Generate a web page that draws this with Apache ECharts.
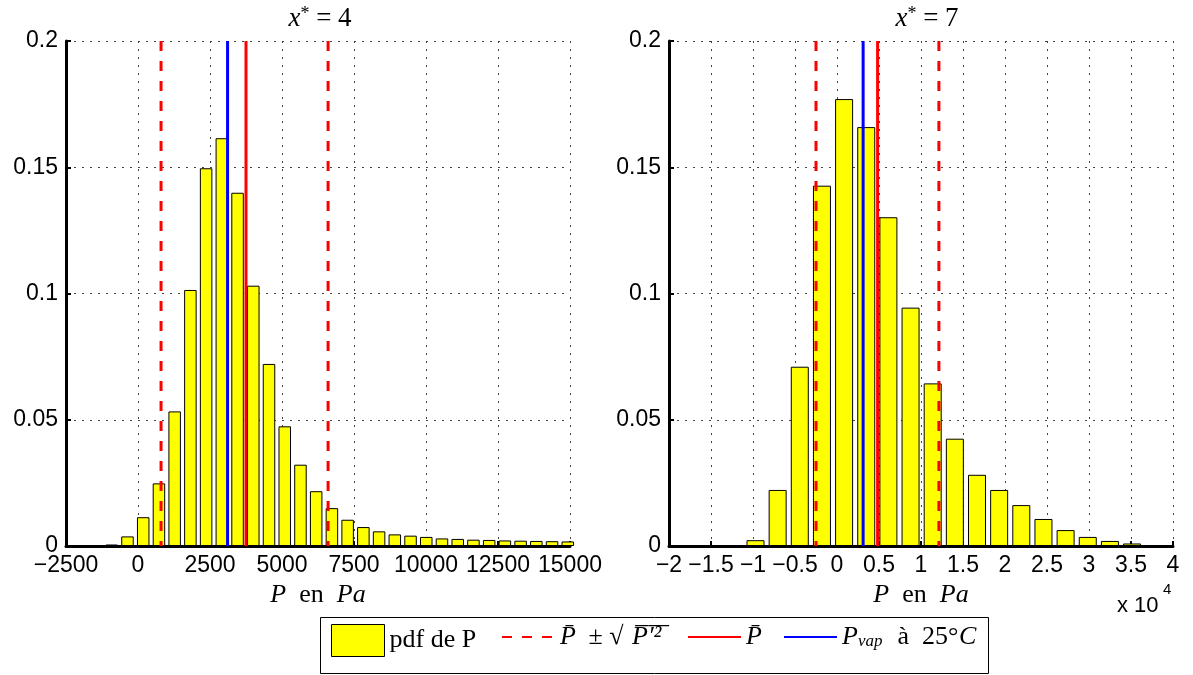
<!DOCTYPE html>
<html>
<head>
<meta charset="utf-8">
<script src="https://cdn.jsdelivr.net/npm/echarts@6/dist/echarts.min.js"></script>
<style>
html,body{margin:0;padding:0;background:#fff;}
#chart{width:1193px;height:675px;}
</style>
</head>
<body>
<div id="chart"></div>
<script>
// ---- Data ----
// Left panel (x* = 4): histogram bin centres (Pa) and pdf values
const binCentersLeft = [-1457, -911, -365, 181, 727, 1273, 1819, 2365, 2911, 3457, 4003, 4549, 5095, 5641, 6187, 6733, 7279, 7825, 8371, 8917, 9463, 10009, 10555, 11101, 11647, 12193, 12739, 13285, 13831, 14377, 14923];
const pdfLeft        = [0.0002, 0.0006, 0.0038, 0.0114, 0.0248, 0.0533, 0.1014, 0.1496, 0.1615, 0.1399, 0.1031, 0.0721, 0.0474, 0.0322, 0.0217, 0.0150, 0.0104, 0.0075, 0.0058, 0.0046, 0.0041, 0.0036, 0.0030, 0.0028, 0.0025, 0.0024, 0.0022, 0.0021, 0.0020, 0.0019, 0.0018];
const meanLeft = 3750, lowLeft = 800, highLeft = 6600, pvapLeft = 3110;

// Right panel (x* = 7)
const binCentersRight = [-9703, -7066, -4429, -1792, 845, 3482, 6119, 8756, 11393, 14030, 16667, 19304, 21941, 24578, 27215, 29852, 32489, 35126, 37763];
const pdfRight        = [0.0023, 0.0222, 0.0710, 0.1427, 0.1770, 0.1659, 0.1302, 0.0944, 0.0644, 0.0425, 0.0282, 0.0222, 0.0162, 0.0107, 0.0063, 0.0036, 0.0020, 0.0010, 0.0003];
const meanRight = 4834, lowRight = -2500, highRight = 12130, pvapRight = 3110;

const yTicks = [0, 0.05, 0.1, 0.15, 0.2];
const titles = ['4', '7'];

// ---- Chart ----
const chart = echarts.init(document.getElementById('chart'), null, {renderer: 'canvas'});
const SANS = 'Liberation Sans';
const SERIF = 'Liberation Serif';
const minus = s => String(s).replace('-', '\u2212');

function serifRich(size) {
  return {
    it: {fontFamily: SERIF, fontStyle: 'italic', fontWeight: 'normal', fontSize: size, color: '#000'},
    rm: {fontFamily: SERIF, fontWeight: 'normal', fontSize: size, color: '#000'},
    sup: {fontFamily: SERIF, fontWeight: 'normal', fontSize: Math.round(size * 0.65), color: '#000', verticalAlign: 'top', padding: [0, 0, 8, 0]}
  };
}

const legendRich = {
  pdf: {fontFamily: SERIF, fontSize: 26, color: '#000'},
  sP: {fontFamily: SERIF, fontStyle: 'italic', fontSize: 26, color: '#000', width: 22},
  sPm: {fontFamily: SERIF, fontSize: 26, color: '#000', width: 50},
  sQ: {fontFamily: SERIF, fontStyle: 'italic', fontSize: 26, color: '#000', width: 38},
  mP: {fontFamily: SERIF, fontStyle: 'italic', fontSize: 26, color: '#000'},
  vP: {fontFamily: SERIF, fontStyle: 'italic', fontSize: 26, color: '#000'},
  vSub: {fontFamily: SERIF, fontStyle: 'italic', fontSize: 17, color: '#000', width: 33, verticalAlign: 'bottom', padding: [10, 0, 0, 0]},
  vRm: {fontFamily: SERIF, fontSize: 26, color: '#000', width: 68},
  vC: {fontFamily: SERIF, fontStyle: 'italic', fontSize: 26, color: '#000'}
};

function makeX(idx, min, max, interval, fmt) {
  return {
    type: 'value', gridIndex: idx, min: min, max: max, interval: interval,
    name: '{it|P}{rm|  en  }{it|Pa}', nameLocation: 'middle', nameGap: 36,
    nameTextStyle: {rich: serifRich(26)},
    axisLine: {show: true, onZero: false, lineStyle: {color: '#000', width: 3}},
    axisTick: {show: true, inside: true, length: 5, lineStyle: {color: '#000', width: 2}},
    axisLabel: {color: '#000', fontFamily: SANS, fontSize: 23, margin: 8, formatter: fmt},
    splitLine: {show: true, lineStyle: {color: '#444', width: 1, type: [2, 6]}}
  };
}
function makeY(idx) {
  return {
    type: 'value', gridIndex: idx, min: yTicks[0], max: yTicks[yTicks.length - 1], interval: 0.05,
    axisLine: {show: true, onZero: false, lineStyle: {color: '#000', width: 3}},
    axisTick: {show: true, inside: true, length: 5, lineStyle: {color: '#000', width: 2}},
    axisLabel: {color: '#000', fontFamily: SANS, fontSize: 23, margin: 8, formatter: v => String(+v.toFixed(2))},
    splitLine: {show: true, lineStyle: {color: '#444', width: 1, type: [2, 6]}}
  };
}
function vline(name, x, idx, color, type) {
  return {
    name: name, type: 'line', xAxisIndex: idx, yAxisIndex: idx, symbol: 'none', z: 5,
    data: [[x, 0.2], [x, 0]], animation: false,
    lineStyle: {color: color, width: 3, type: type}, itemStyle: {color: color}
  };
}
const barStyle = {color: '#ffff00', borderColor: '#000', borderWidth: 1};
const hiddenSymbol = {color: 'rgba(0,0,0,0)', borderWidth: 0, opacity: 0};

const NAME_PDF = 'pdf', NAME_STD = 'std', NAME_MEAN = 'mean', NAME_PVAP = 'pvap';
const legendText = {
  pdf: '{pdf|pdf de P}',
  std: '{sP|P\u0304}{sPm| \u00b1 \u221a}{sQ|P\u0305\u2032\u0305\u00b2\u0305}',
  mean: '{mP|P\u0304}',
  pvap: '{vP|P}{vSub|vap}{vRm| \u00e0  25\u00b0}{vC|C}'
};
function oneLegend(name, left, itemStyle, icon) {
  const item = {name: name, itemStyle: itemStyle};
  if (icon) item.icon = icon;
  return {
    left: left, top: 624, padding: 0, itemWidth: 53, itemHeight: 32, z: 10,
    selectedMode: false, backgroundColor: 'transparent',
    data: [item],
    textStyle: {rich: legendRich},
    formatter: n => legendText[n]
  };
}

chart.setOption({
  animation: false,
  title: [
    {text: '{it|x}{sup|*}{rm| = ' + titles[0] + '}', left: 315, top: 0, textAlign: 'center', textStyle: {fontWeight: 'normal', rich: serifRich(27)}},
    {text: '{it|x}{sup|*}{rm| = ' + titles[1] + '}', left: 922, top: 0, textAlign: 'center', textStyle: {fontWeight: 'normal', rich: serifRich(27)}}
  ],
  grid: [
    {left: 66, top: 41, width: 504, height: 505},
    {left: 669, top: 41, width: 504, height: 505}
  ],
  xAxis: [
    makeX(0, -2500, 15000, 2500, v => minus(v)),
    makeX(1, -20000, 40000, 5000, v => minus(+(v / 10000).toFixed(1)))
  ],
  yAxis: [makeY(0), makeY(1)],
  legend: [
    oneLegend(NAME_PDF, 331, {color: '#ffff00', borderColor: '#000', borderWidth: 1}, 'rect'),
    oneLegend(NAME_STD, 501, hiddenSymbol),
    oneLegend(NAME_MEAN, 687, hiddenSymbol),
    oneLegend(NAME_PVAP, 783, hiddenSymbol)
  ],
  graphic: [
    {type: 'rect', z: 0, shape: {x: 320.5, y: 617.5, width: 668, height: 56}, style: {fill: '#fff', stroke: '#000', lineWidth: 1}},
    {type: 'text', left: 1117, top: 595, style: {text: 'x 10', font: '22px "Liberation Sans"', fill: '#000'}},
    {type: 'text', left: 1163, top: 582, style: {text: '4', font: '15px "Liberation Sans"', fill: '#000'}}
  ],
  series: [
    {name: NAME_PDF, type: 'bar', xAxisIndex: 0, yAxisIndex: 0, barWidth: 12.5, itemStyle: barStyle,
     data: binCentersLeft.map((x, i) => [x, pdfLeft[i]])},
    {name: NAME_PDF, type: 'bar', xAxisIndex: 1, yAxisIndex: 1, barWidth: 18, itemStyle: barStyle,
     data: binCentersRight.map((x, i) => [x, pdfRight[i]])},
    vline(NAME_STD, lowLeft, 0, '#ff0000', [10, 10]),
    vline(NAME_STD, highLeft, 0, '#ff0000', [10, 10]),
    vline(NAME_MEAN, meanLeft, 0, '#ff0000', 'solid'),
    vline(NAME_PVAP, pvapLeft, 0, '#0000ff', 'solid'),
    vline(NAME_STD, lowRight, 1, '#ff0000', [10, 10]),
    vline(NAME_STD, highRight, 1, '#ff0000', [10, 10]),
    vline(NAME_MEAN, meanRight, 1, '#ff0000', 'solid'),
    vline(NAME_PVAP, pvapRight, 1, '#0000ff', 'solid')
  ]
});
</script>
</body>
</html>
